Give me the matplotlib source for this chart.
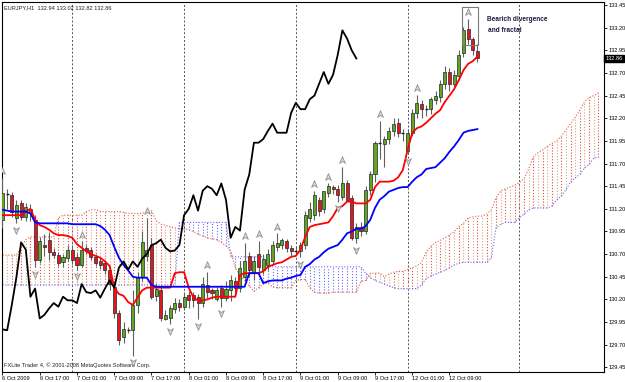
import numpy as np
import matplotlib.pyplot as plt
from matplotlib.patches import Rectangle
from matplotlib.path import Path
import matplotlib.transforms as mtransforms

plt.rcParams['font.family'] = ['Liberation Sans', 'DejaVu Sans']

# EURJPY H1, bar 0 = 6 Oct 2009 09:00
opens = [131.08, 131.37, 131.35, 131.10, 131.26, 131.11, 131.15, 131.08, 130.63, 130.80,
         130.86, 130.72, 130.69, 130.61, 130.66, 130.75, 130.67, 130.58, 130.77, 130.75,
         130.67, 130.62, 130.60, 130.52, 130.34, 130.05, 129.78, 129.87, 129.86, 130.14,
         130.45, 130.68, 130.80, 130.24, 130.30, 129.98, 130.00, 130.09, 130.16, 130.12,
         130.25, 130.25, 130.23, 130.16, 130.36, 130.30, 130.20, 130.33, 130.22, 130.30,
         130.40, 130.33, 130.45, 130.68, 130.50, 130.70, 130.52, 130.58, 130.62, 130.78,
         130.80, 130.84, 130.77, 130.74, 130.73, 130.80, 131.10, 131.13, 131.30, 131.20,
         131.38, 131.44, 131.42, 131.33, 131.48, 131.32, 130.88, 131.00, 130.96, 131.41,
         131.58, 131.93, 131.92, 131.97, 132.06, 132.15, 132.04, 131.84, 132.04, 132.26,
         132.36, 132.31, 132.30, 132.40, 132.43, 132.58, 132.71, 132.58, 132.67, 132.92,
         133.18, 133.07, 132.94]
highs = [131.54, 131.42, 131.39, 131.30, 131.30, 131.26, 131.25, 131.13, 130.89, 130.92,
         130.94, 130.77, 130.72, 130.70, 130.80, 130.80, 130.71, 130.84, 130.80, 130.78,
         130.70, 130.66, 130.64, 130.57, 130.40, 130.08, 129.95, 129.90, 130.30, 130.50,
         130.95, 131.10, 130.88, 130.38, 130.34, 130.08, 130.14, 130.22, 130.20, 130.28,
         130.29, 130.28, 130.26, 130.45, 130.50, 130.33, 130.34, 130.36, 130.40, 130.47,
         130.45, 130.62, 130.82, 130.72, 130.68, 130.85, 130.70, 130.76, 130.84, 130.93,
         130.88, 130.87, 130.80, 130.78, 130.83, 131.18, 131.28, 131.40, 131.33, 131.38,
         131.48, 131.46, 131.46, 131.66, 131.52, 131.35, 131.04, 131.05, 131.45, 131.62,
         131.95, 132.17, 132.00, 132.10, 132.20, 132.20, 132.08, 132.08, 132.30, 132.46,
         132.40, 132.35, 132.43, 132.50, 132.62, 132.78, 132.75, 132.73, 132.95, 133.21,
         133.30, 133.10, 133.02]
lows = [130.99, 131.20, 131.11, 131.04, 131.08, 131.07, 131.07, 130.56, 130.60, 130.68,
        130.64, 130.66, 130.57, 130.56, 130.62, 130.59, 130.53, 130.56, 130.70, 130.64,
        130.57, 130.54, 130.48, 130.30, 129.99, 129.70, 129.72, 129.83, 129.58, 130.05,
        130.40, 130.62, 130.20, 130.18, 129.96, 129.97, 129.93, 130.05, 130.07, 130.08,
        130.10, 130.12, 129.98, 130.12, 130.22, 130.20, 130.18, 130.12, 130.18, 130.18,
        130.25, 130.28, 130.40, 130.45, 130.42, 130.50, 130.48, 130.52, 130.58, 130.74,
        130.76, 130.72, 130.68, 130.70, 130.67, 130.76, 131.05, 131.08, 131.12, 131.15,
        131.33, 131.36, 131.28, 131.30, 131.29, 130.86, 130.82, 130.90, 130.92, 131.35,
        131.50, 131.75, 131.66, 131.92, 132.00, 131.99, 131.95, 131.80, 132.00, 132.20,
        132.20, 132.22, 132.25, 132.36, 132.38, 132.52, 132.50, 132.54, 132.62, 132.88,
        133.02, 132.90, 132.82]
closes = [131.38, 131.36, 131.17, 131.24, 131.11, 131.22, 131.20, 130.63, 130.85, 130.78,
          130.72, 130.69, 130.60, 130.67, 130.75, 130.64, 130.58, 130.75, 130.73, 130.67,
          130.60, 130.58, 130.52, 130.37, 130.05, 129.75, 129.87, 129.86, 130.14, 130.45,
          130.83, 130.75, 130.23, 130.32, 129.99, 130.03, 130.10, 130.16, 130.12, 130.23,
          130.19, 130.19, 130.16, 130.37, 130.28, 130.27, 130.30, 130.22, 130.32, 130.41,
          130.33, 130.55, 130.62, 130.53, 130.62, 130.56, 130.65, 130.70, 130.80, 130.82,
          130.86, 130.77, 130.73, 130.74, 130.80, 131.13, 131.20, 131.35, 131.18, 131.40,
          131.45, 131.42, 131.35, 131.48, 131.30, 130.88, 131.00, 130.96, 131.41, 131.58,
          131.93, 131.93, 131.97, 132.06, 132.14, 132.04, 132.04, 132.04, 132.26, 132.37,
          132.30, 132.30, 132.41, 132.45, 132.58, 132.71, 132.58, 132.68, 132.90, 133.17,
          133.08, 132.95, 132.86]

# Ichimoku lines
tenkan = [131.13, 131.13, 131.13, 131.13, 131.13, 131.17, 131.20, 131.08, 131.02, 131.00,
          130.97, 130.93, 130.91, 130.91, 130.90, 130.88, 130.81, 130.77, 130.73, 130.70,
          130.68, 130.66, 130.62, 130.57, 130.33, 130.26, 130.24, 130.17, 130.14, 130.22,
          130.30, 130.33, 130.33, 130.33, 130.33, 130.33, 130.33, 130.49, 130.50, 130.50,
          130.33, 130.22, 130.19, 130.19, 130.20, 130.22, 130.23, 130.23, 130.23, 130.23,
          130.23, 130.47, 130.49, 130.49, 130.49, 130.49, 130.51, 130.56, 130.58, 130.60,
          130.61, 130.64, 130.67, 130.68, 130.75, 130.89, 131.00, 131.02, 131.03, 131.04,
          131.05, 131.12, 131.21, 131.23, 131.28, 131.28, 131.26, 131.26, 131.26, 131.30,
          131.44, 131.50, 131.50, 131.50, 131.51, 131.55, 131.63, 131.85, 132.04, 132.09,
          132.11, 132.15, 132.20, 132.25, 132.29, 132.38, 132.45, 132.52, 132.62, 132.73,
          132.80, 132.83, 132.88]
kijun = [131.19, 131.18, 131.17, 131.17, 131.17, 131.17, 131.15, 131.05, 131.04, 131.04,
         131.04, 131.04, 131.04, 131.04, 131.04, 131.03, 131.03, 131.03, 131.03, 131.03,
         131.03, 131.01, 130.97, 130.91, 130.78, 130.66, 130.58, 130.52, 130.45, 130.44,
         130.44, 130.44, 130.36, 130.34, 130.34, 130.34, 130.34, 130.34, 130.34, 130.34,
         130.34, 130.34, 130.34, 130.34, 130.34, 130.34, 130.34, 130.34, 130.34, 130.34,
         130.34, 130.34, 130.34, 130.49, 130.49, 130.49, 130.38, 130.40, 130.41, 130.41,
         130.41, 130.43, 130.44, 130.46, 130.47, 130.56, 130.59, 130.64, 130.67, 130.72,
         130.76, 130.78, 130.80, 130.86, 130.93, 130.95, 130.98, 130.98, 131.01, 131.08,
         131.21, 131.30, 131.34, 131.39, 131.41, 131.43, 131.44, 131.44, 131.50, 131.55,
         131.58, 131.64, 131.65, 131.66, 131.71, 131.76, 131.83, 131.89, 131.96, 132.04,
         132.06, 132.07, 132.08]
span_a = [130.69, 130.69, 130.69, 130.69, 130.78, 130.86, 130.89, 130.89, 130.89, 130.89,
          130.89, 130.89, 131.10, 131.13, 131.13, 131.13, 131.13, 131.13, 131.17, 131.19,
          131.19, 131.17, 131.17, 131.17, 131.17, 131.17, 131.16, 131.15, 131.15, 131.15,
          131.15, 131.17, 131.18, 131.07, 131.03, 131.02, 131.00, 130.99, 130.98, 130.98,
          130.97, 130.95, 130.92, 130.90, 130.88, 130.87, 130.86, 130.83, 130.79, 130.74,
          130.55, 130.46, 130.41, 130.35, 130.29, 130.33, 130.37, 130.38, 130.34, 130.33,
          130.33, 130.33, 130.33, 130.41, 130.42, 130.42, 130.33, 130.28, 130.27, 130.27,
          130.27, 130.28, 130.28, 130.28, 130.28, 130.28, 130.28, 130.40, 130.41, 130.49,
          130.49, 130.49, 130.45, 130.48, 130.50, 130.51, 130.51, 130.53, 130.55, 130.57,
          130.61, 130.72, 130.79, 130.83, 130.85, 130.88, 130.91, 130.95, 131.00, 131.04,
          131.10, 131.11, 131.12, 131.12, 131.14, 131.19, 131.32, 131.40, 131.42, 131.44,
          131.46, 131.49, 131.53, 131.64, 131.77, 131.82, 131.85, 131.89, 131.92, 131.95,
          132.00, 132.07, 132.14, 132.21, 132.29, 132.38, 132.43, 132.45, 132.48]
span_b = ([130.36] * 38 + [131.05] * 11 + [130.67] * 8 + [130.56] * 21 +
          [130.49, 130.44, 130.41, 130.39, 130.37, 130.35, 130.33,
           130.32, 130.32, 130.32, 130.32, 130.32, 130.36, 130.43, 130.46, 130.48,
           130.50, 130.52, 130.55, 130.58, 130.60, 130.61, 130.61, 130.61, 130.61,
           130.61, 130.61, 130.66, 130.99, 131.03, 131.05, 131.05, 131.05, 131.10,
           131.14, 131.19, 131.21, 131.21, 131.21, 131.21, 131.23, 131.30, 131.34,
           131.41, 131.50, 131.54, 131.58, 131.65, 131.69, 131.76, 131.77])

fractal_up = [0, 17, 31, 44, 52, 55, 59, 67, 70, 73, 81, 89, 100]
fractal_down = [3, 7, 16, 28, 36, 42, 47, 64, 72, 76, 87]

time_idx = [0, 8, 16, 24, 32, 40, 48, 56, 64, 72, 80, 88, 96]
time_labels = ['6 Oct 2009', '6 Oct 17:00', '7 Oct 01:00', '7 Oct 09:00', '7 Oct 17:00',
               '8 Oct 01:00', '8 Oct 09:00', '8 Oct 17:00', '9 Oct 01:00', '9 Oct 09:00',
               '9 Oct 17:00', '12 Oct 01:00', '12 Oct 09:00']
day_breaks = [15, 39, 63, 87, 111]
price_ticks = [133.45, 133.20, 132.95, 132.70, 132.45, 132.20, 131.95, 131.70, 131.45,
               131.20, 130.95, 130.70, 130.45, 130.20, 129.95, 129.70, 129.45]
last_price = 132.86

n = len(closes)
x = np.arange(n)
xc = np.arange(len(span_a))
sa = np.array(span_a)
sb = np.array(span_b)

fig = plt.figure(figsize=(6.25, 3.82), dpi=100)
ax = fig.add_axes([2 / 625, 10 / 382, 602 / 625, 370 / 382])
ax.set_xlim(-0.107, 129.19)
ax.set_ylim(129.399, 133.483)

# day separators
for d in day_breaks:
    ax.axvline(d, color='#505050', lw=0.7, ls=(0, (2, 2)), zorder=1)

# cloud: dotted vertical hatching
dot = (0, (1, 1.6))
for i in xc:
    if sa[i] >= sb[i]:
        col = '#e04a40' if i % 2 == 0 else '#d8a878'
    else:
        col = '#6a6af0'
    ax.vlines(i, min(sa[i], sb[i]), max(sa[i], sb[i]), colors=col, lw=0.8,
              linestyles=[dot], zorder=2)
ax.plot(xc, sa, color='#e0603a', lw=0.8, ls=dot, zorder=2)
ax.plot(xc, sb, color='#6a6aff', lw=0.8, ls=dot, zorder=2)

# candles
bw = 0.66
for i in x:
    o, h, l, c = opens[i], highs[i], lows[i], closes[i]
    ax.vlines(i, l, h, colors='#606060', lw=0.8, zorder=3)
    if abs(c - o) < 0.012:
        ax.hlines((o + c) / 2, i - bw / 2, i + bw / 2, colors='#202020', lw=1.0, zorder=4)
    else:
        fc = '#66a31e' if c > o else '#e8141a'
        ax.add_patch(Rectangle((i - bw / 2, min(o, c)), bw, abs(c - o), facecolor=fc,
                               edgecolor='#1a2a30', lw=0.5, zorder=4))

# ichimoku lines
ax.plot(x, tenkan, color='#ff0000', lw=1.3, zorder=5)
ax.plot(x, kijun, color='#0000ff', lw=1.3, zorder=5)
ax.plot(x[:n - 26], closes[26:], color='#000000', lw=1.3, zorder=5)

# fractals
up_path = Path([(0, 1), (0.75, -0.75), (0, -0.25), (-0.75, -0.75), (0, 1)],
               [Path.MOVETO, Path.LINETO, Path.LINETO, Path.LINETO, Path.CLOSEPOLY])
down_path = Path([(0, -1), (0.75, 0.75), (0, 0.25), (-0.75, 0.75), (0, -1)],
                 [Path.MOVETO, Path.LINETO, Path.LINETO, Path.LINETO, Path.CLOSEPOLY])
ax.plot(fractal_up, [highs[i] + 0.075 for i in fractal_up], ls='none', marker=up_path,
        ms=5.5, mfc='#dadada', mec='#909090', mew=0.6, zorder=6)
ax.plot(fractal_down, [lows[i] - 0.075 for i in fractal_down], ls='none', marker=down_path,
        ms=5.5, mfc='#dadada', mec='#909090', mew=0.6, zorder=6)

# annotation box
ax.add_patch(Rectangle((98.6, 133.01), 3.6, 0.42, fill=False, edgecolor='#7a7a7a',
                       lw=0.8, zorder=7))
ax.text(104.1, 133.29, 'Bearich divergence', fontsize=4.7, fontweight='bold',
        color='#1a1a40', va='center', ha='left')
ax.text(104.3, 133.17, 'and fractal', fontsize=4.7, fontweight='bold',
        color='#1a1a40', va='center', ha='left')

ax.text(0.003, 0.99, 'EURJPY,H1  132.94 133.02 132.82 132.86', transform=ax.transAxes,
        fontsize=4.1, color='#202020', va='top', ha='left')
ax.text(0.003, 0.01, 'FXLite Trader 4, \u00a9 2001-2008 MetaQuotes Software Corp.',
        transform=ax.transAxes, fontsize=4.1, color='#202020', va='bottom', ha='left')

# axes
for s in ax.spines.values():
    s.set_color('#000000')
    s.set_linewidth(0.8)
ax.yaxis.tick_right()
ax.set_yticks(price_ticks)
ax.set_yticklabels(['%.2f' % p for p in price_ticks])
ax.tick_params(axis='y', direction='out', length=2, width=0.6, pad=1,
               labelsize=4.1, colors='#000000')
ax.set_xticks(time_idx)
ax.set_xticklabels(time_labels, ha='left')
ax.tick_params(axis='x', direction='out', length=2, width=0.6, pad=0.8,
               labelsize=4.1, colors='#000000')

trans = mtransforms.blended_transform_factory(ax.transAxes, ax.transData)
ax.text(1.002, last_price, '%.2f' % last_price, transform=trans, fontsize=4.1, color='white',
        va='center', ha='left', zorder=10,
        bbox=dict(boxstyle='square,pad=0.2', facecolor='#000000', edgecolor='#000000'))

fig.savefig('out.png', dpi=100, facecolor='white')
